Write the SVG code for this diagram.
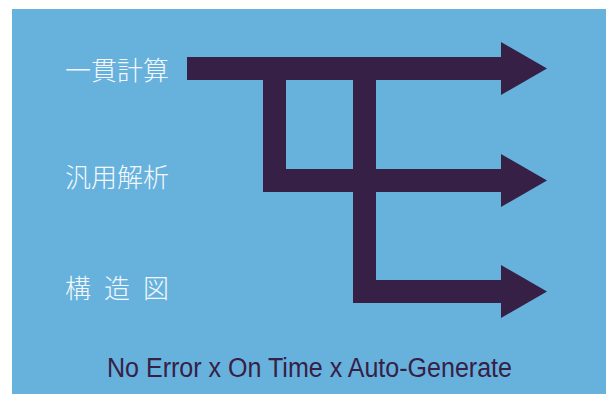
<svg xmlns="http://www.w3.org/2000/svg" width="609" height="394" viewBox="0 0 609 394">
<style>
.bg{fill:#67b1dd}
.lbl{font-family:"Noto Sans CJK JP","Noto Sans CJK SC",sans-serif;font-size:26px;fill:#f4f8fc;font-weight:300}
.flow{fill:#362046}
.tag{font-family:"Liberation Sans",Arial,sans-serif;font-size:27px;fill:#362046}
</style>
<rect class="bg" x="12" y="9" width="594" height="385"/>
<g id="connectors">
<path class="flow" d="M187 57H501V42L547 68.5L501 95V80H187Z"/>
<path class="flow" d="M263 57H286V169H501V154L547 180.5L501 207V192H263Z"/>
<path class="flow" d="M353 57H376V280H501V265L547 291.5L501 318V303H353Z"/>
</g>
<g id="node-ikkan"><text class="lbl" x="65" y="80">一貫計算</text></g>
<g id="node-hanyo"><text class="lbl" x="65" y="187">汎用解析</text></g>
<g id="node-kozo"><text class="lbl" x="65 104 143" y="298">構造図</text></g>
<g id="tagline"><text class="tag" x="107" y="377" textLength="405" lengthAdjust="spacingAndGlyphs">No Error x On Time x Auto-Generate</text></g>
</svg>
